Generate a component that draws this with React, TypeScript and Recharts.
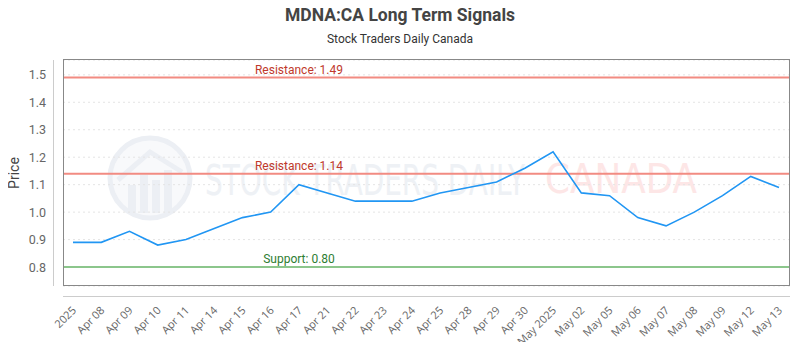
import React from 'react';
import { LineChart, Line, XAxis, YAxis, CartesianGrid, ReferenceLine } from 'recharts';

const dates = [
  '2025', 'Apr 08', 'Apr 09', 'Apr 10', 'Apr 11', 'Apr 14', 'Apr 15', 'Apr 16', 'Apr 17',
  'Apr 21', 'Apr 22', 'Apr 23', 'Apr 24', 'Apr 25', 'Apr 28', 'Apr 29', 'Apr 30', 'May 2025',
  'May 02', 'May 05', 'May 06', 'May 07', 'May 08', 'May 09', 'May 12', 'May 13',
];
const prices = [
  0.89, 0.89, 0.93, 0.88, 0.9, 0.94, 0.98, 1.0, 1.1,
  1.07, 1.04, 1.04, 1.04, 1.07, 1.09, 1.11, 1.16, 1.22,
  1.07, 1.06, 0.98, 0.95, 1.0, 1.06, 1.13, 1.09,
];
const yTicks = [0.8, 0.9, 1.0, 1.1, 1.2, 1.3, 1.4, 1.5];
const yDomain = [0.731, 1.554];
const resistanceHigh = 1.49;
const resistanceLow = 1.14;
const supportLevel = 0.8;

const data = dates.map((d, i) => ({ date: d, price: prices[i] }));

const W = 800;
const H = 350;
const PLOT_LEFT = 63;
const PLOT_RIGHT = 790;
const PLOT_TOP = 60;
const PLOT_BOTTOM = 286;

const XTick = (props: any) => {
  const { x, y, payload } = props;
  const ax = x + 4;
  const ay = y + 25;
  return (
    <text
      x={ax}
      y={ay}
      textAnchor="end"
      transform={`rotate(-45, ${ax}, ${ay})`}
      fontSize={11}
      fontFamily="'Open Sans', sans-serif"
      fill="#666666"
    >
      {payload.value}
    </text>
  );
};

const YTick = (props: any) => {
  const { y, payload } = props;
  return (
    <text
      x={PLOT_LEFT - 17}
      y={y + 4.5}
      textAnchor="end"
      fontSize={12.5}
      fontFamily="Roboto, sans-serif"
      fill="#666666"
    >
      {Number(payload.value).toFixed(1)}
    </text>
  );
};

const makeLabel = (text: string, color: string) => (props: any) => {
  const vb = props.viewBox || {};
  const x = (vb.x ?? PLOT_LEFT) + 236;
  const y = (vb.y ?? 0) - 4;
  return (
    <text x={x} y={y} textAnchor="middle" fontSize={12} fontFamily="Roboto, sans-serif" fill={color}>
      {text}
    </text>
  );
};

const Watermark = () => (
  <svg width={W} height={H} style={{ position: 'absolute', left: 0, top: 0, zIndex: 0 }}>
    <g>
      <circle cx={150} cy={178} r={40} fill="#f8f9fb" stroke="#eceff4" strokeWidth={5} />
      <rect x={128} y={185} width={8} height={28} fill="#eceff4" />
      <rect x={140} y={175} width={8} height={38} fill="#eceff4" />
      <rect x={152} y={180} width={8} height={33} fill="#eceff4" />
      <rect x={164} y={170} width={8} height={43} fill="#eceff4" />
      <polyline points="118,180 150,152 182,172" fill="none" stroke="#eceff4" strokeWidth={5} />
      <text
        x={205}
        y={195}
        fontSize={42}
        fontFamily="'DejaVu Sans', sans-serif"
        textLength={320}
        lengthAdjust="spacingAndGlyphs"
        fill="#eef1f5"
      >
        STOCK TRADERS DAILY
      </text>
      <text
        x={545}
        y={193}
        fontSize={40}
        fontFamily="'DejaVu Sans', sans-serif"
        textLength={152}
        lengthAdjust="spacingAndGlyphs"
        fill="#fde6e6"
      >
        CANADA
      </text>
    </g>
  </svg>
);

const Overlay = () => (
  <svg width={W} height={H} style={{ position: 'absolute', left: 0, top: 0, zIndex: 2, pointerEvents: 'none' }}>
    <text x={400} y={21} textAnchor="middle" fontSize={17.5} fontWeight="bold" fontFamily="Roboto, sans-serif" fill="#444">
      MDNA:CA Long Term Signals
    </text>
    <text x={400} y={43} textAnchor="middle" fontSize={12} fontFamily="Roboto, sans-serif" fill="#333">
      Stock Traders Daily Canada
    </text>
    <text
      x={19}
      y={173}
      textAnchor="middle"
      transform="rotate(-90, 19, 173)"
      fontSize={14}
      fontFamily="Roboto, sans-serif"
      fill="#444"
    >
      Price
    </text>
    <line x1={53.5} y1={PLOT_TOP} x2={53.5} y2={PLOT_BOTTOM} stroke="#ccc" strokeWidth={1} />
    <line x1={PLOT_LEFT} y1={296.5} x2={PLOT_RIGHT} y2={296.5} stroke="#ccc" strokeWidth={1} />
    <rect
      x={PLOT_LEFT + 0.5}
      y={PLOT_TOP - 0.5}
      width={PLOT_RIGHT - PLOT_LEFT - 1}
      height={PLOT_BOTTOM - PLOT_TOP}
      fill="none"
      stroke="#888"
      strokeWidth={1}
    />
  </svg>
);

export default function App() {
  return (
    <div style={{ position: 'relative', width: W, height: H, margin: -8, background: '#fff' }}>
      <Watermark />
      <div style={{ position: 'absolute', left: 0, top: 0, zIndex: 1 }}>
        <LineChart
          width={W}
          height={H}
          data={data}
          margin={{ top: PLOT_TOP, right: W - PLOT_RIGHT, left: 0, bottom: 0 }}
        >
          <CartesianGrid horizontal vertical={false} stroke="#e4e4e4" strokeDasharray="2 3" />
          <XAxis
            dataKey="date"
            type="category"
            scale="point"
            padding={{ left: 10, right: 11 }}
            interval={0}
            axisLine={false}
            tickLine={false}
            tickSize={0}
            tickMargin={0}
            height={H - PLOT_BOTTOM}
            tick={<XTick />}
          />
          <YAxis
            type="number"
            domain={yDomain}
            ticks={yTicks}
            allowDataOverflow
            width={PLOT_LEFT}
            axisLine={false}
            tickLine={false}
            tick={<YTick />}
          />
          <ReferenceLine
            y={resistanceHigh}
            stroke="#f28b82"
            strokeWidth={2}
            label={makeLabel(`Resistance: ${resistanceHigh.toFixed(2)}`, '#c0392b')}
          />
          <ReferenceLine
            y={resistanceLow}
            stroke="#f28b82"
            strokeWidth={2}
            label={makeLabel(`Resistance: ${resistanceLow.toFixed(2)}`, '#c0392b')}
          />
          <ReferenceLine
            y={supportLevel}
            stroke="#8cc68c"
            strokeWidth={2}
            label={makeLabel(`Support: ${supportLevel.toFixed(2)}`, '#2e7d32')}
          />
          <Line
            type="linear"
            dataKey="price"
            stroke="#2196f3"
            strokeWidth={1.6}
            dot={false}
            isAnimationActive={false}
          />
        </LineChart>
      </div>
      <Overlay />
    </div>
  );
}
